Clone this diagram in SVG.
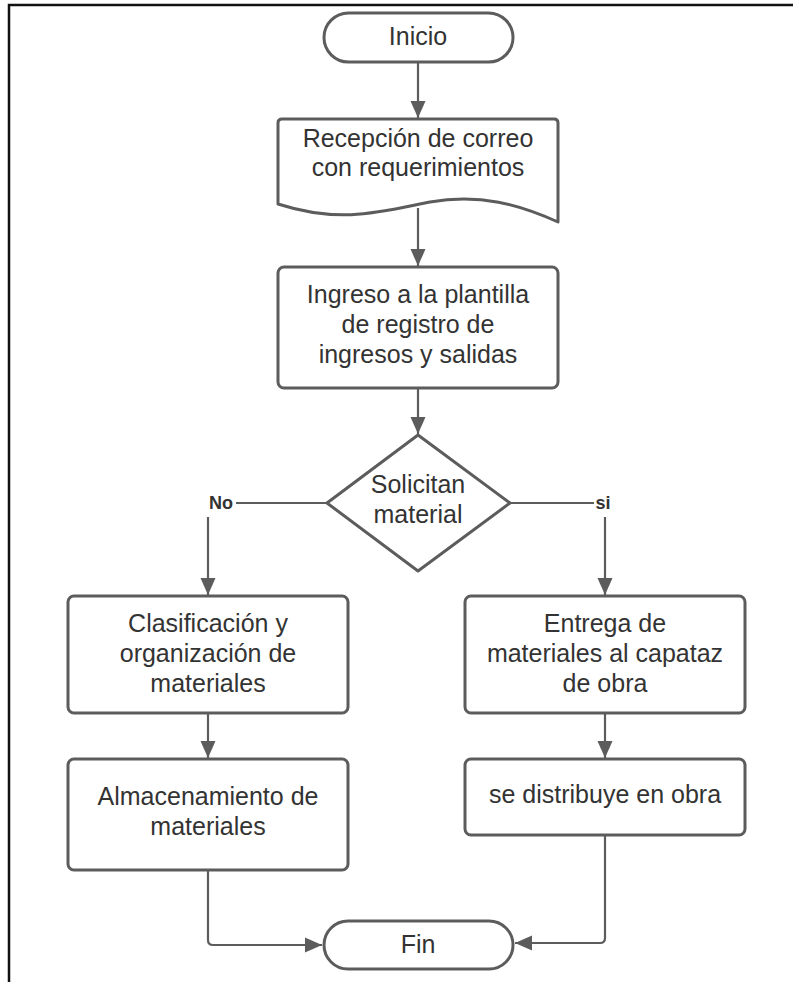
<svg xmlns="http://www.w3.org/2000/svg" width="793" height="982" viewBox="0 0 793 982">
<defs>
<style>
.shape{fill:#fff;stroke:#5c5c5c;stroke-width:3;stroke-linejoin:round}
.conn{fill:none;stroke:#5c5c5c;stroke-width:2.2}
.t{font-family:"Liberation Sans",Arial,sans-serif;font-size:25px;fill:#333;text-anchor:middle}
.lbl{font-family:"Liberation Sans",Arial,sans-serif;font-size:18px;font-weight:bold;fill:#333;text-anchor:middle}
</style>
<marker id="arr" markerUnits="userSpaceOnUse" markerWidth="18" markerHeight="16" refX="17" refY="8" orient="auto">
<path d="M0,0.5 L17,8 L0,15.5 z" fill="#5c5c5c"/>
</marker>
</defs>
<rect width="793" height="982" fill="#fff"/>
<path d="M9,982 V5 H793" fill="none" stroke="#111" stroke-width="2.5"/>

<g id="connectors">
<line class="conn" x1="418" y1="62" x2="418" y2="118" marker-end="url(#arr)"/>
<line class="conn" x1="418" y1="208" x2="418" y2="266" marker-end="url(#arr)"/>
<line class="conn" x1="418" y1="388" x2="418" y2="434" marker-end="url(#arr)"/>
<line class="conn" x1="327" y1="503" x2="236" y2="503"/>
<line class="conn" x1="510" y1="503" x2="594" y2="503"/>
<line class="conn" x1="208" y1="517" x2="208" y2="595" marker-end="url(#arr)"/>
<line class="conn" x1="605" y1="517" x2="605" y2="595" marker-end="url(#arr)"/>
<line class="conn" x1="208" y1="713" x2="208" y2="758" marker-end="url(#arr)"/>
<line class="conn" x1="605" y1="713" x2="605" y2="758" marker-end="url(#arr)"/>
<path class="conn" d="M208,870 V940 Q208,945 213,945 H322" marker-end="url(#arr)"/>
<path class="conn" d="M605,835 V938 Q605,943 600,943 H515" marker-end="url(#arr)"/>
<text class="lbl" x="221" y="509">No</text>
<text class="lbl" x="603" y="509">si</text>
</g>

<g id="inicio">
<rect class="shape" x="324" y="13" width="189" height="49" rx="24.5"/>
<text class="t" x="418" y="45">Inicio</text>
</g>

<g id="recepcion">
<path class="shape" d="M278,204 V123 Q278,119 282,119 H554 Q558,119 558,123 V222 C520,205 480,193 430,202 C380,212 340,224 278,204 z"/>
<text class="t" x="418" y="147">Recepción de correo</text>
<text class="t" x="418" y="176">con requerimientos</text>
</g>

<g id="ingreso">
<rect class="shape" x="278" y="267" width="280" height="121" rx="6"/>
<text class="t" x="418" y="303">Ingreso a la plantilla</text>
<text class="t" x="418" y="333">de registro de</text>
<text class="t" x="418" y="363">ingresos y salidas</text>
</g>

<g id="decision">
<path class="shape" d="M418,435 L510,503 L418,571 L327,503 z"/>
<text class="t" x="418" y="493">Solicitan</text>
<text class="t" x="418" y="523">material</text>
</g>

<g id="clasificacion">
<rect class="shape" x="68" y="596" width="280" height="117" rx="6"/>
<text class="t" x="208" y="632">Clasificación y</text>
<text class="t" x="208" y="662">organización de</text>
<text class="t" x="208" y="692">materiales</text>
</g>

<g id="entrega">
<rect class="shape" x="465" y="596" width="280" height="117" rx="6"/>
<text class="t" x="605" y="632">Entrega de</text>
<text class="t" x="605" y="662">materiales al capataz</text>
<text class="t" x="605" y="692">de obra</text>
</g>

<g id="almacenamiento">
<rect class="shape" x="68" y="759" width="280" height="111" rx="6"/>
<text class="t" x="208" y="805">Almacenamiento de</text>
<text class="t" x="208" y="835">materiales</text>
</g>

<g id="distribuye">
<rect class="shape" x="465" y="759" width="280" height="76" rx="6"/>
<text class="t" x="605" y="803">se distribuye en obra</text>
</g>

<g id="fin">
<rect class="shape" x="324" y="921" width="189" height="48" rx="24"/>
<text class="t" x="418" y="953">Fin</text>
</g>
</svg>
